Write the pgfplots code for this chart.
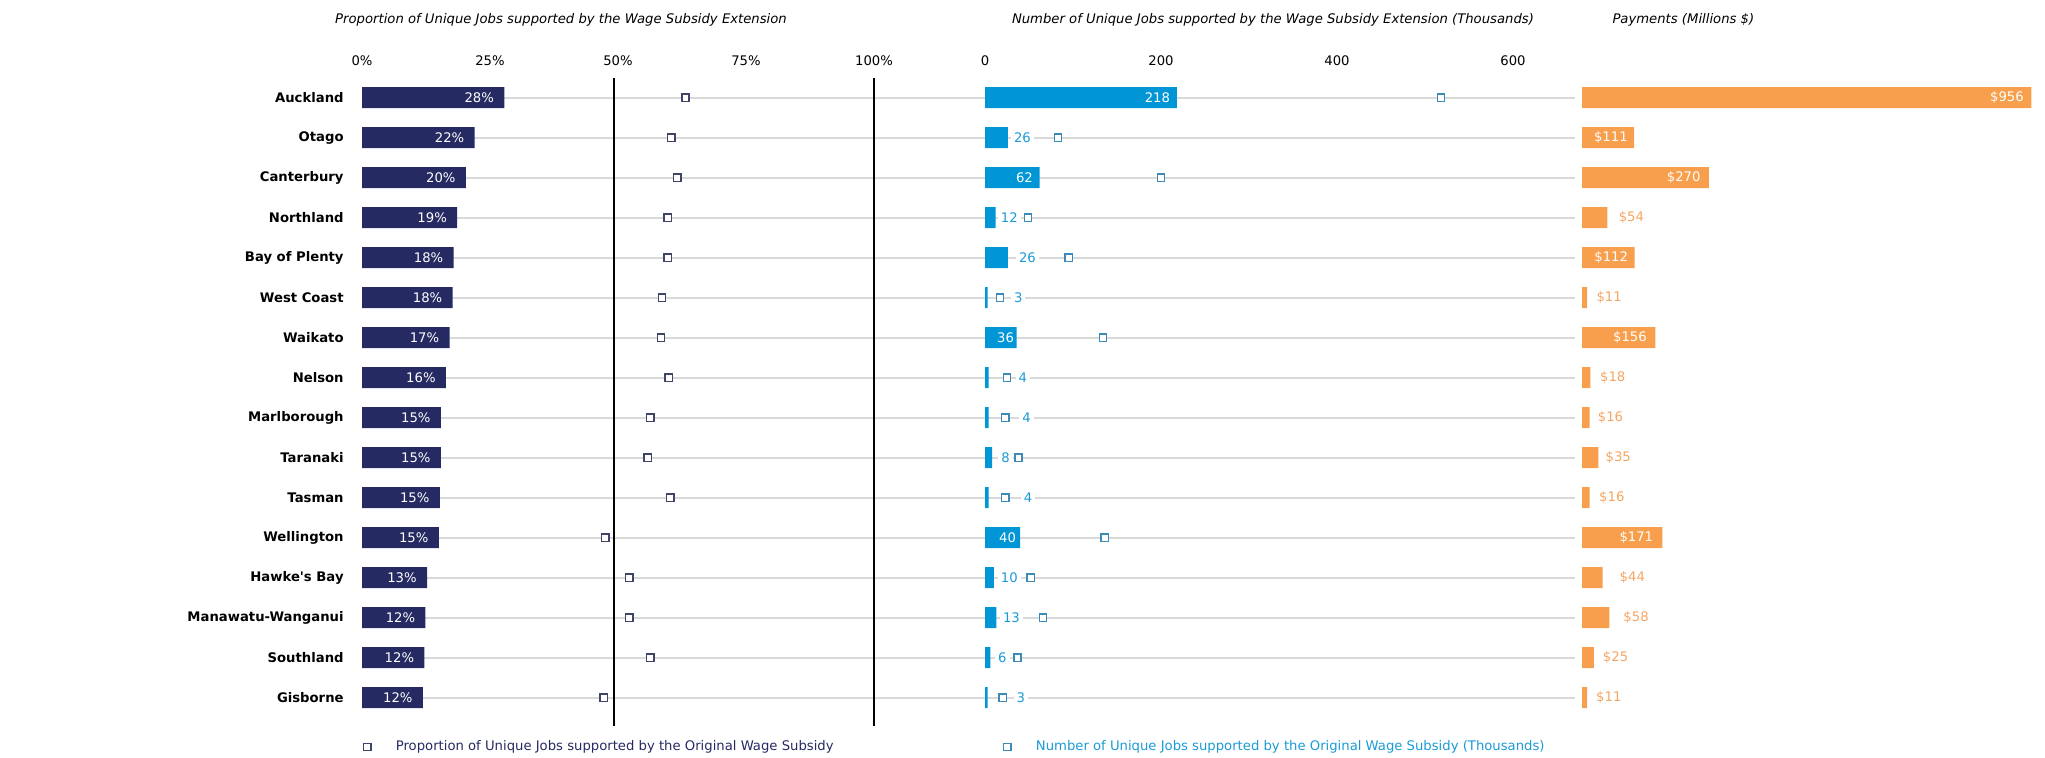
\documentclass[border=0pt]{standalone}
\usepackage{pgfplots}
\pgfplotsset{compat=1.18}
\usepackage{pgfplotstable}
\usepackage{fontspec}
\setmainfont{DejaVu Sans}
\definecolor{navy}{HTML}{252A62}
\definecolor{navysq}{HTML}{404468}
\definecolor{bblue}{HTML}{0096D6}
\definecolor{bluesq}{HTML}{3D8AB8}
\definecolor{bluelab}{HTML}{1B9AD6}
\definecolor{orng}{HTML}{F89F4D}
\definecolor{orlab}{HTML}{F5A562}
\definecolor{gridgray}{HTML}{D9D9D9}
\newcommand\regf{\fontsize{6.6pt}{7.9pt}\selectfont}
\newcommand\boldf{\fontsize{6.6pt}{7.9pt}\selectfont\bfseries}

\pgfplotstableread{
idx val lab orig
0 27.8 28 63.2
1 22.0 22 60.4
2 20.3 20 61.6
3 18.6 19 59.7
4 17.9 18 59.7
5 17.7 18 58.6
6 17.1 17 58.4
7 16.4 16 59.9
8 15.4 15 56.3
9 15.4 15 55.8
10 15.2 15 60.2
11 15.0 15 47.5
12 12.7 13 52.2
13 12.4 12 52.2
14 12.2 12 56.3
15 11.9 12 47.2
}\leftdata

\pgfplotstableread{
idx val orig
0 218 518
1 26 83
2 62 200
3 12 49
4 26 95
5 3 17
6 36 134
7 4 25
8 4 23
9 8 38
10 4 23
11 40 136
12 10 52
13 13 66
14 6 37
15 3 20
}\middata

\pgfplotstableread{
idx lx lab
0 195.9 218
2 44.8 62
6 23.4 36
11 25.6 40
}\midin

\pgfplotstableread{
idx lx lab
1 42.5 26
3 27.7 12
4 48.2 26
5 37.8 3
7 43.0 4
8 47.3 4
9 23.3 8
10 48.9 4
12 27.6 10
13 30.1 13
14 19.7 6
15 40.8 3
}\midout

\pgfplotstableread{
idx val
0 956
1 111
2 270
3 54
4 112
5 11
6 156
7 18
8 16
9 35
10 16
11 171
12 44
13 58
14 25
15 11
}\rightdata

\pgfplotstableread{
idx lx lab
0 904 956
1 61.4 111
2 216.4 270
4 62.1 112
6 101.9 156
11 115.5 171
}\rightin

\pgfplotstableread{
idx lx lab
3 105 54
5 57.8 11
7 65.5 18
8 60.6 16
9 77.2 35
10 63.4 16
12 107 44
13 115 58
14 71.4 25
15 57 11
}\rightout

\begin{document}
\begin{tikzpicture}
\path[use as bounding box] (0,0) rectangle (1022.5pt,-378.5pt);
\pgfplotsset{
  panel/.style={
    scale only axis, height=324pt,
    ymin=-0.5, ymax=15.7, y dir=reverse,
    enlargelimits=false,
    axis line style={draw=none},
    major tick length=0pt, tick style={draw=none},
    anchor=north west, clip=false,
    xmajorgrids=false,
    xticklabel pos=upper,
    xticklabel style={anchor=center, yshift=8.35pt, inner sep=0pt, font=\regf},
    title style={font=\regf\itshape, inner sep=0pt, yshift=-7pt},
    legend image code/.code={\draw[##1] plot coordinates {(0pt,0pt)};},
  },
  sq/.style={only marks, mark=square*, mark size=1.8pt,
    mark options={fill=white, draw=#1, line width=0.7pt, solid}},
  labs/.style={draw=none, mark=none, nodes near coords,
    point meta=explicit symbolic,
    every node near coord/.append style={anchor=center, font=\regf}},
}

% ---------- left panel ----------
\begin{axis}[panel,
  at={(181pt,-38.85pt)}, width=311.5pt,
  xmin=0, xmax=121.68,
  xtick={0,25,50,75,100},
  xticklabels={0\%,25\%,50\%,75\%,100\%},
  extra x ticks={49.2,100},
  extra x tick labels={},
  extra x tick style={xmajorgrids=true, major grid style={draw=black, line width=0.75pt}},
  ytick={0,...,15},
  yticklabels={Auckland,Otago,Canterbury,Northland,Bay of Plenty,West Coast,Waikato,Nelson,Marlborough,Taranaki,Tasman,Wellington,Hawke\textquotesingle s Bay,Manawatu-Wanganui,Southland,Gisborne},
  yticklabel style={anchor=east, xshift=-9pt, inner sep=0pt, font=\boldf},
  ymajorgrids, y grid style={draw=gridgray, line width=0.85pt},
  title={Proportion of Unique Jobs supported by the Wage Subsidy Extension},
  title style={at={(axis description cs:0.3194,1.0921)}, anchor=center},
  legend style={at={(axis description cs:0.002,-0.0329)}, anchor=west,
    draw=none, fill=none, inner sep=0pt, font=\regf, text=navy,
    nodes={inner sep=0pt},
    /tikz/every odd column/.append style={column sep=12.5pt}},
]
\addplot[xbar, bar width=10.5pt, bar shift=0pt, fill=navy, draw=none,
  nodes near coords={\pgfplotspointmeta\%},
  point meta=explicit symbolic,
  every node near coord/.append style={anchor=east, xshift=-5pt, text=white, inner sep=0pt, font=\regf},
  forget plot]
  table[x=val, y=idx, meta=lab]{\leftdata};
\addplot[sq=navysq] table[x=orig, y=idx]{\leftdata};
\addlegendentry{Proportion of Unique Jobs supported by the Original Wage Subsidy}
\end{axis}

% ---------- middle panel ----------
\begin{axis}[panel,
  at={(492.5pt,-38.85pt)}, width=295pt,
  xmin=0, xmax=670.45,
  xtick={0,200,400,600},
  xticklabels={0,200,400,600},
  ytick={0,...,15}, yticklabels={,,,,,,,,,,,,,,,},
  ymajorgrids, y grid style={draw=gridgray, line width=0.85pt},
  title={Number of Unique Jobs supported by the Wage Subsidy Extension (Thousands)},
  title style={at={(axis description cs:0.488,1.0921)}, anchor=center},
  legend style={at={(axis description cs:0.031,-0.0329)}, anchor=west,
    draw=none, fill=none, inner sep=0pt, font=\regf, text=bluelab,
    nodes={inner sep=0pt},
    /tikz/every odd column/.append style={column sep=12.5pt}},
]
\addplot[xbar, bar width=10.5pt, bar shift=0pt, fill=bblue, draw=none, forget plot]
  table[x=val, y=idx]{\middata};
\addplot[labs, every node near coord/.append style={text=white, inner sep=0pt}, forget plot]
  table[x=lx, y=idx, meta=lab]{\midin};
\addplot[labs, every node near coord/.append style={text=bluelab, fill=white, inner sep=1.5pt}, forget plot]
  table[x=lx, y=idx, meta=lab]{\midout};
\addplot[sq=bluesq] table[x=orig, y=idx]{\middata};
\addlegendentry{Number of Unique Jobs supported by the Original Wage Subsidy (Thousands)}
\end{axis}

% ---------- right panel ----------
\begin{axis}[panel,
  at={(791pt,-38.85pt)}, width=231.5pt,
  xmin=0, xmax=985.1,
  xtick=\empty, ytick=\empty,
  title={Payments (Millions \$)},
  title style={at={(axis description cs:0.065,1.0921)}, anchor=west},
]
\addplot[xbar, bar width=10.5pt, bar shift=0pt, fill=orng, draw=none]
  table[x=val, y=idx]{\rightdata};
\addplot[labs, nodes near coords={\$\pgfplotspointmeta}, every node near coord/.append style={text=white, inner sep=0pt}]
  table[x=lx, y=idx, meta=lab]{\rightin};
\addplot[labs, nodes near coords={\$\pgfplotspointmeta}, every node near coord/.append style={text=orlab, inner sep=0pt}]
  table[x=lx, y=idx, meta=lab]{\rightout};
\end{axis}
\end{tikzpicture}
\end{document}
